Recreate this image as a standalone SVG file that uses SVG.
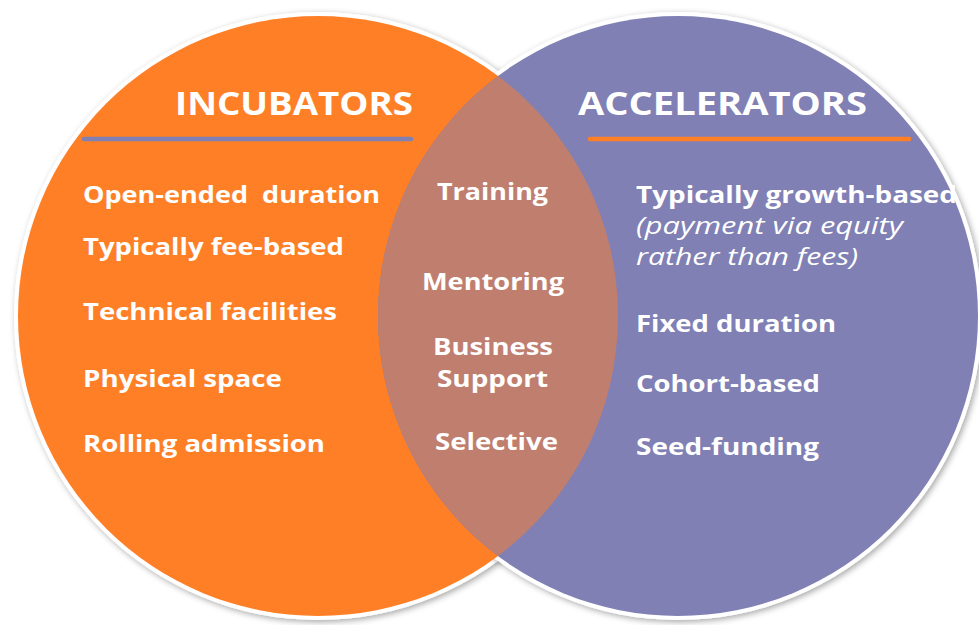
<svg xmlns="http://www.w3.org/2000/svg" width="979" height="625" viewBox="0 0 979 625">
<style>
.t{font-family:"Open Sans","Liberation Sans",sans-serif;font-weight:700;font-size:23px;fill:#ffffff}
.i{font-family:"Open Sans","Liberation Sans",sans-serif;font-weight:400;font-style:italic;font-size:23px;fill:#ffffff}
.h{font-family:"Open Sans","Liberation Sans",sans-serif;font-weight:700;font-size:33px;fill:#ffffff}
.c{text-anchor:middle}
</style>
<defs>
<filter id="sh" x="-10%" y="-10%" width="120%" height="120%">
<feDropShadow dx="2" dy="2" stdDeviation="3" flood-color="#000000" flood-opacity="0.35"/>
</filter>
</defs>
<rect width="979" height="625" fill="#ffffff"/>
<g id="circle-borders">
<circle cx="318" cy="316" r="304" fill="#ffffff" filter="url(#sh)"/>
<circle cx="678" cy="316" r="304" fill="#ffffff" filter="url(#sh)"/>
</g>
<g id="incubators">
<circle cx="318" cy="316" r="300" fill="#FF7F27"/>
</g>
<g id="accelerators">
<circle cx="678" cy="316" r="300" fill="#8080B5"/>
</g>
<g id="overlap">
<path d="M498,76 A300,300 0 0,1 498,556 A300,300 0 0,1 498,76 Z" fill="#C07E6E"/>
</g>
<g id="incubators-text">
<text class="h" x="175" y="115" textLength="238" lengthAdjust="spacingAndGlyphs">INCUBATORS</text>
<line x1="84" y1="139" x2="411" y2="139" stroke="#8080B5" stroke-width="4.5" stroke-linecap="round"/>
<text class="t" x="83" y="203" textLength="297" lengthAdjust="spacingAndGlyphs" xml:space="preserve">Open-ended  duration</text>
<text class="t" x="83" y="255" textLength="261" lengthAdjust="spacingAndGlyphs">Typically fee-based</text>
<text class="t" x="83" y="320" textLength="254" lengthAdjust="spacingAndGlyphs">Technical facilities</text>
<text class="t" x="83" y="387" textLength="199" lengthAdjust="spacingAndGlyphs">Physical space</text>
<text class="t" x="83" y="452" textLength="242" lengthAdjust="spacingAndGlyphs">Rolling admission</text>
</g>
<g id="overlap-text">
<text class="t c" x="492.5" y="200" textLength="111" lengthAdjust="spacingAndGlyphs">Training</text>
<text class="t c" x="493" y="290" textLength="142" lengthAdjust="spacingAndGlyphs">Mentoring</text>
<text class="t c" x="493" y="355" textLength="120" lengthAdjust="spacingAndGlyphs">Business</text>
<text class="t c" x="492.5" y="387" textLength="111" lengthAdjust="spacingAndGlyphs">Support</text>
<text class="t c" x="496.5" y="450" textLength="123" lengthAdjust="spacingAndGlyphs">Selective</text>
</g>
<g id="accelerators-text">
<text class="h" x="578" y="115" textLength="289" lengthAdjust="spacingAndGlyphs">ACCELERATORS</text>
<line x1="590" y1="139" x2="909" y2="139" stroke="#FF7F27" stroke-width="4.5" stroke-linecap="round"/>
<text class="t" x="636" y="203" textLength="321" lengthAdjust="spacingAndGlyphs">Typically growth-based</text>
<text class="i" x="636" y="234" textLength="267" lengthAdjust="spacingAndGlyphs">(payment via equity</text>
<text class="i" x="636" y="265" textLength="222" lengthAdjust="spacingAndGlyphs">rather than fees)</text>
<text class="t" x="636" y="332" textLength="200" lengthAdjust="spacingAndGlyphs">Fixed duration</text>
<text class="t" x="636" y="392" textLength="184" lengthAdjust="spacingAndGlyphs">Cohort-based</text>
<text class="t" x="636" y="455" textLength="183" lengthAdjust="spacingAndGlyphs">Seed-funding</text>
</g>
</svg>
